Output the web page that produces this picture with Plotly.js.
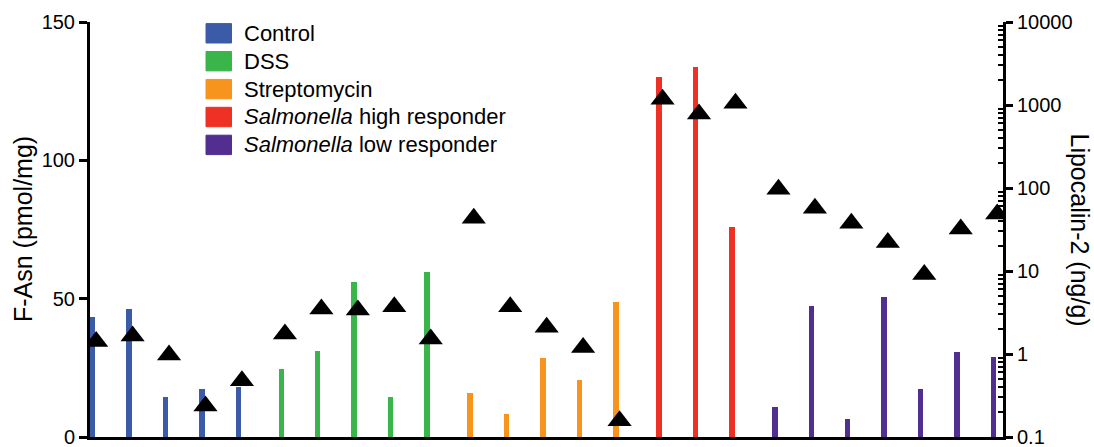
<!DOCTYPE html>
<html>
<head>
<meta charset="utf-8">
<script src="https://cdn.plot.ly/plotly-3.0.1.min.js"></script>
<style>html,body{margin:0;padding:0;background:#fff;}#chart{width:1094px;height:447px;}</style>
</head>
<body>
<div id="chart"></div>
<script>
// ---- Data ----
const groupNames = ['Control', 'DSS', 'Streptomycin', 'Salmonella high responder', 'Salmonella low responder'];
const legendLabels = ['Control', 'DSS', 'Streptomycin', '<i>Salmonella</i> high responder', '<i>Salmonella</i> low responder'];
const groupColors = ['#3B5BA9', '#3AB54A', '#F7941D', '#EE3124', '#532E91'];

// F-Asn (pmol/mg), left axis bars
const controlFAsn = [43.5, 46.3, 14.3, 17.2, 18.2];
const dssFAsn = [24.5, 31.2, 56.1, 14.3, 59.5];
const strepFAsn = [15.8, 8.2, 28.4, 20.6, 48.9];
const salHighFAsn = [130.2, 133.6, 75.9];
const salLowFAsn = [11.0, 47.5, 6.4, 50.5, 17.3, 30.8, 29.0];

// Lipocalin-2 (ng/g), right log axis triangles
const controlLcn2 = [1.41, 1.65, 0.97, 0.236, 0.477];
const dssLcn2 = [1.74, 3.49, 3.39, 3.71, 1.52];
const strepLcn2 = [43.2, 3.71, 2.10, 1.20, 0.157];
const salHighLcn2 = [1172, 779, 1048];
const salLowLcn2 = [96.4, 56.9, 37.6, 22.1, 9.1, 32.1, 48.6];

// Tick labels
const leftTicks = [0, 50, 100, 150];
const rightTickVals = [0.1, 1, 10, 100, 1000, 10000];
const rightTickText = ['0.1', '1', '10', '100', '1000', '10000'];

// ---- Build traces ----
const fasnGroups = [controlFAsn, dssFAsn, strepFAsn, salHighFAsn, salLowFAsn];
const lcn2Groups = [controlLcn2, dssLcn2, strepLcn2, salHighLcn2, salLowLcn2];
const GROUP_GAP = 0.18;     // extra spacing between groups (in sample units)
const MARKER_SHIFT = 0.1;   // triangles sit slightly right of the bars

const traces = [];
let idx = 0;
const xsByGroup = [];
fasnGroups.forEach((vals, g) => {
  const xs = vals.map((_, i) => idx + i + g * GROUP_GAP);
  idx += vals.length;
  xsByGroup.push(xs);
  traces.push({
    type: 'bar', x: xs, y: vals, width: 0.15, name: groupNames[g],
    marker: {color: groupColors[g], line: {width: 0}},
    xaxis: 'x', yaxis: 'y', showlegend: false, hoverinfo: 'y'
  });
});
lcn2Groups.forEach((vals, g) => {
  traces.push({
    type: 'scatter', mode: 'markers',
    x: xsByGroup[g].map(v => v + MARKER_SHIFT), y: vals,
    marker: {symbol: 'triangle-up', size: 21, color: '#000', line: {width: 0}},
    xaxis: 'x', yaxis: 'y2', showlegend: false, hoverinfo: 'y'
  });
});

// minor log ticks (2..9 in each decade)
const minorVals = [];
for (let d = -1; d < 4; d++) for (let k = 2; k <= 9; k++) minorVals.push(k * Math.pow(10, d));

// ---- Layout helpers (pixel -> paper) ----
const L = 90, R = 91, T = 22, B = 10, W = 1094, H = 447;
const PW = W - L - R, PH = H - T - B;
const px = p => (p - L) / PW;
const py = p => (H - B - p) / PH;

const FONT = 'Liberation Sans, Arial, Helvetica, sans-serif';
const shapes = [];
const annotations = [];

// Legend (boxes + labels)
const legTop = 33.3, legStep = 27.9;
groupNames.forEach((n, i) => {
  const yc = legTop + i * legStep;
  shapes.push({
    type: 'rect', xref: 'paper', yref: 'paper',
    x0: px(206), x1: px(231.5), y0: py(yc + 9.7), y1: py(yc - 9.7),
    fillcolor: groupColors[i], line: {width: 1, color: groupColors[i]}, opacity: 1
  });
  annotations.push({
    xref: 'paper', yref: 'paper', x: px(242), y: py(yc),
    xanchor: 'left', yanchor: 'middle', showarrow: false,
    text: legendLabels[i], font: {family: FONT, size: 22, color: '#000'}
  });
});

// Axis titles
annotations.push({
  xref: 'paper', yref: 'paper', x: px(22.5), y: 0.5, xanchor: 'center', yanchor: 'middle',
  showarrow: false, textangle: -90, text: 'F-Asn (pmol/mg)',
  font: {family: FONT, size: 25, color: '#000'}
});
annotations.push({
  xref: 'paper', yref: 'paper', x: px(1080), y: 0.5, xanchor: 'center', yanchor: 'middle',
  showarrow: false, textangle: 90, text: 'Lipocalin-2 (ng/g)',
  font: {family: FONT, size: 25, color: '#000'}
});

const layout = {
  width: W, height: H,
  margin: {l: L, r: R, t: T, b: B, pad: 0},
  paper_bgcolor: '#fff', plot_bgcolor: '#fff',
  showlegend: false,
  bargap: 0,
  font: {family: FONT, color: '#000'},
  xaxis: {
    range: [-0.0686, 24.98], showline: true, linewidth: 3, linecolor: '#000',
    showgrid: false, zeroline: false, ticks: '', showticklabels: false, fixedrange: true
  },
  yaxis: {
    range: [0, 150], tickmode: 'array', tickvals: leftTicks, ticktext: leftTicks.map(String),
    showline: true, linewidth: 3, linecolor: '#000', ticks: 'outside', ticklen: 8, tickwidth: 3,
    tickcolor: '#000', showgrid: false, zeroline: false, ticklabeloverflow: 'allow',
    tickfont: {family: FONT, size: 20, color: '#000'}
  },
  yaxis2: {
    type: 'log', range: [-1, 4], overlaying: 'y', side: 'right',
    tickmode: 'array', tickvals: rightTickVals, ticktext: rightTickText,
    showline: true, linewidth: 3, linecolor: '#000', ticks: 'outside', ticklen: 7, tickwidth: 3,
    tickcolor: '#000', showgrid: false, zeroline: false, ticklabeloverflow: 'allow',
    minor: {ticks: 'inside', tickmode: 'array', tickvals: minorVals, ticklen: 5, tickwidth: 2, tickcolor: '#000', showgrid: false},
    tickfont: {family: FONT, size: 20, color: '#000'}
  },
  shapes: shapes,
  annotations: annotations
};

Plotly.newPlot('chart', traces, layout, {displayModeBar: false, staticPlot: true});
</script>
</body>
</html>
